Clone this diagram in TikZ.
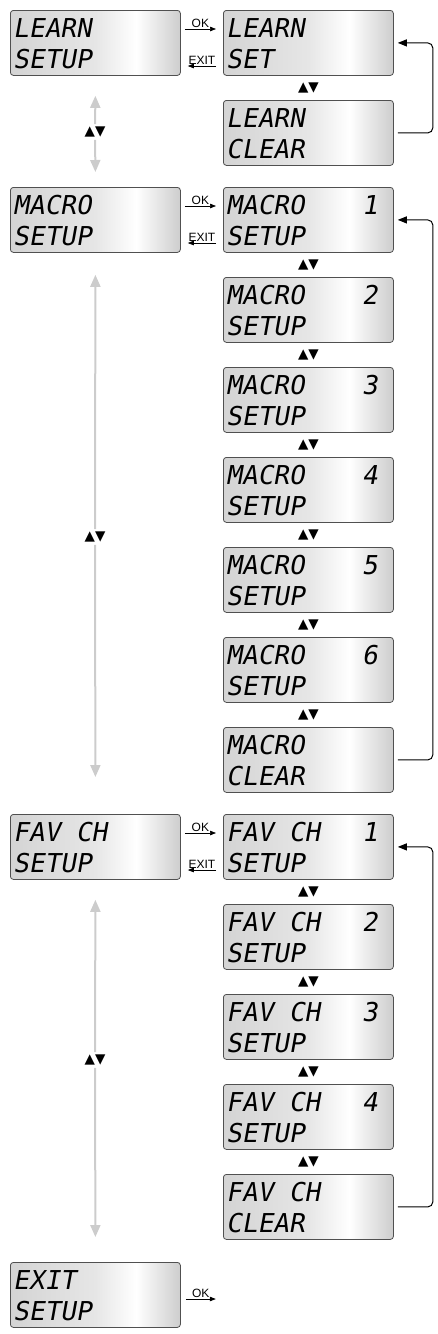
\documentclass[tikz,border=0pt]{standalone}
\usepackage{fontspec}
\newfontfamily\lcdfont[FakeSlant=0.18]{DejaVu Sans Mono}
\newfontfamily\keyfont{Liberation Sans}
\newfontfamily\symfont{DejaVu Sans}
\usetikzlibrary{arrows.meta}
\definecolor{lcdline}{HTML}{505050}
\definecolor{lcddark}{HTML}{D4D4D4}
\definecolor{lcdmid}{HTML}{E6E6E6}
\definecolor{lcdright}{HTML}{CDCDCD}
\definecolor{navgray}{HTML}{CCCCCC}
\pgfdeclarehorizontalshading{lcdshade}{100bp}{color(0bp)=(lcddark); color(25bp)=(lcddark);
  color(50bp)=(lcdmid); color(62bp)=(white); color(75bp)=(lcdright); color(100bp)=(lcdright)}
\newcommand{\lcdscreen}[5]{
  \node (#1) [screen] at #2 {};
  \node (#1-up) [lcd] at ([shift={(3,27)}]#1.north west) {#3};
  \node (#1-lo) [lcd] at ([shift={(3,58)}]#1.north west) {#4};
  \node (#1-no) [lcd,anchor=base east] at ([shift={(-16,27)}]#1.north east) {#5};}

\begin{document}
\begin{tikzpicture}
[x=1pt,y=-1pt,
screen/.style={draw=lcdline,line width=0.8pt,rounded corners=3pt,shade,shading=lcdshade,
  minimum width=170pt,minimum height=65pt,inner sep=0pt,anchor=north west},
lcd/.style={font=\lcdfont\fontsize{26}{26}\selectfont,inner sep=0pt,anchor=base west},
updown/.style={font=\symfont\fontsize{13.5}{13.5}\selectfont,inner sep=1pt},
navmark/.style={inner sep=2.5pt},
keylabel/.style={font=\keyfont\fontsize{12}{12}\selectfont,inner sep=1pt,above},
keyarrow/.style={-{Triangle[length=6pt,width=4.5pt]},line width=0.7pt},
nav/.style={draw=navgray,line width=2pt,-{Triangle[length=12pt,width=10pt]}},
backarrow/.style={-{Triangle[length=9pt,width=7pt]},line width=1pt,rounded corners=5pt}]

\useasboundingbox (0,0) rectangle (437,1334);

% learn
\lcdscreen{ls}{(10,10)}{LEARN}{SETUP}{}
\lcdscreen{lset}{(223,10)}{LEARN}{SET}{}
\lcdscreen{lclear}{(223,100)}{LEARN}{CLEAR}{}
\node (lud1) [updown] at ([yshift=-12.5pt]lset.south) {▲▼};
\draw [keyarrow] ([shift={(4,19)}]ls.north east) -- ([shift={(-7,19)}]lset.north west)
    node (ls-ok) [keylabel,midway] {OK};
\draw [keyarrow] ([shift={(-7,56)}]lset.north west) -- ([shift={(7,56)}]ls.north east)
    node (ls-exit) [keylabel,midway] {EXIT};
\draw [backarrow] ([xshift=4pt]lclear.east) -- ([xshift=39pt]lclear.east)
    |- ([xshift=4pt]lset.east);

% macro
\lcdscreen{ms}{(10,187)}{MACRO}{SETUP}{}
\lcdscreen{m1}{(223,187)}{MACRO}{SETUP}{1}
\lcdscreen{m2}{(223,277)}{MACRO}{SETUP}{2}
\lcdscreen{m3}{(223,367)}{MACRO}{SETUP}{3}
\lcdscreen{m4}{(223,457)}{MACRO}{SETUP}{4}
\lcdscreen{m5}{(223,547)}{MACRO}{SETUP}{5}
\lcdscreen{m6}{(223,637)}{MACRO}{SETUP}{6}
\lcdscreen{mclear}{(223,727)}{MACRO}{CLEAR}{}
\node (mud1) [updown] at ([yshift=-12.5pt]m1.south) {▲▼};
\node (mud2) [updown] at ([yshift=-12.5pt]m2.south) {▲▼};
\node (mud3) [updown] at ([yshift=-12.5pt]m3.south) {▲▼};
\node (mud4) [updown] at ([yshift=-12.5pt]m4.south) {▲▼};
\node (mud5) [updown] at ([yshift=-12.5pt]m5.south) {▲▼};
\node (mud6) [updown] at ([yshift=-12.5pt]m6.south) {▲▼};
\draw [keyarrow] ([shift={(4,19)}]ms.north east) -- ([shift={(-7,19)}]m1.north west)
    node (ms-ok) [keylabel,midway] {OK};
\draw [keyarrow] ([shift={(-7,56)}]m1.north west) -- ([shift={(7,56)}]ms.north east)
    node (ms-exit) [keylabel,midway] {EXIT};
\draw [backarrow] ([xshift=4pt]mclear.east) -- ([xshift=39pt]mclear.east)
    |- ([xshift=4pt]m1.east);

% fav ch
\lcdscreen{fs}{(10,814)}{FAV CH}{SETUP}{}
\lcdscreen{f1}{(223,814)}{FAV CH}{SETUP}{1}
\lcdscreen{f2}{(223,904)}{FAV CH}{SETUP}{2}
\lcdscreen{f3}{(223,994)}{FAV CH}{SETUP}{3}
\lcdscreen{f4}{(223,1084)}{FAV CH}{SETUP}{4}
\lcdscreen{fclear}{(223,1174)}{FAV CH}{CLEAR}{}
\node (fud1) [updown] at ([yshift=-12.5pt]f1.south) {▲▼};
\node (fud2) [updown] at ([yshift=-12.5pt]f2.south) {▲▼};
\node (fud3) [updown] at ([yshift=-12.5pt]f3.south) {▲▼};
\node (fud4) [updown] at ([yshift=-12.5pt]f4.south) {▲▼};
\draw [keyarrow] ([shift={(4,19)}]fs.north east) -- ([shift={(-7,19)}]f1.north west)
    node (fs-ok) [keylabel,midway] {OK};
\draw [keyarrow] ([shift={(-7,56)}]f1.north west) -- ([shift={(7,56)}]fs.north east)
    node (fs-exit) [keylabel,midway] {EXIT};
\draw [backarrow] ([xshift=4pt]fclear.east) -- ([xshift=39pt]fclear.east)
    |- ([xshift=4pt]f1.east);

% exit
\lcdscreen{xs}{(10,1262)}{EXIT}{SETUP}{}
\coordinate (quit) at ([shift={(35,37)}]xs.north east);
\draw [keyarrow] ([shift={(5,37)}]xs.north east) -- (quit)
    node (xs-ok) [keylabel,midway] {OK};

% up and down between the menus
\node (lnav) [updown,navmark] at (95,132) {▲▼};
\draw [nav] (lnav) -- ([yshift=-20pt]ls.south);
\draw [nav] (lnav) -- ([yshift=15pt]ms.north);
\node (mnav) [updown,navmark] at (95,537) {▲▼};
\draw [nav] (mnav) -- ([yshift=-22pt]ms.south);
\draw [nav] (mnav) -- ([yshift=37pt]fs.north);
\node (fnav) [updown,navmark] at (95,1060) {▲▼};
\draw [nav] (fnav) -- ([yshift=-20pt]fs.south);
\draw [nav] (fnav) -- ([yshift=25pt]xs.north);
\end{tikzpicture}
\end{document}
